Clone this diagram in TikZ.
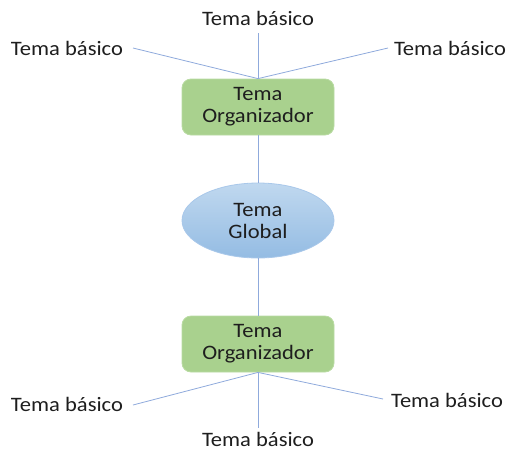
\documentclass[tikz,border=0pt]{standalone}
\usepackage{fontspec}
\setmainfont{Carlito}[FakeStretch=1.1]
\usetikzlibrary{shapes.geometric}
\definecolor{lnblue}{HTML}{8FAADC}
\definecolor{boxgreen}{HTML}{A9D18E}
\definecolor{boxedge}{HTML}{B9DBA3}
\definecolor{elltop}{HTML}{C0D8EF}
\definecolor{ellbot}{HTML}{94BCE3}
\definecolor{elledge}{HTML}{A9C8EA}
\definecolor{txt}{HTML}{1E1E1E}
\begin{document}
\begin{tikzpicture}[x=1pt,y=-1pt,
  conn/.style={draw=lnblue,line width=0.8pt},
  orgbox/.style={draw=boxedge,fill=boxgreen,rounded corners=9pt,minimum width=152pt,minimum height=56pt,align=center,inner sep=0pt,font=\fontsize{20.5}{22}\selectfont,text=txt,line width=0.8pt},
  globell/.style={ellipse,draw=elledge,top color=elltop,bottom color=ellbot,minimum width=152pt,minimum height=75pt,align=center,inner sep=0pt,font=\fontsize{20.5}{22}\selectfont,text=txt,line width=0.8pt},
  basic/.style={font=\fontsize{20.5}{22}\selectfont,text=txt,inner sep=0pt}]
\useasboundingbox (0,0) rectangle (512,451);
\node[orgbox] (org1) at (258,107) {Tema\\Organizador};
\node[globell] (glob) at (258,220.5) {Tema\\Global};
\node[orgbox] (org2) at (258,344) {Tema\\Organizador};
\node[basic] (b1) at (258,18) {Tema básico};
\node[basic] (b2) at (67,48) {Tema básico};
\node[basic] (b3) at (450,48) {Tema básico};
\node[basic] (b4) at (67,404) {Tema básico};
\node[basic] (b5) at (447,400) {Tema básico};
\node[basic] (b6) at (258,439.5) {Tema básico};
\coordinate (t1) at (258,33);
\coordinate (t2) at (133,48);
\coordinate (t3) at (388,48);
\coordinate (u4) at (133,405);
\coordinate (u5) at (383,399);
\coordinate (u6) at (258,428);
\draw[conn] (t1) -- (org1.north);
\draw[conn] (t2) -- (org1.north);
\draw[conn] (t3) -- (org1.north);
\draw[conn] (org1.south) -- (glob.north);
\draw[conn] (glob.south) -- (org2.north);
\draw[conn] (org2.south) -- (u4);
\draw[conn] (org2.south) -- (u5);
\draw[conn] (org2.south) -- (u6);
\end{tikzpicture}
\end{document}
